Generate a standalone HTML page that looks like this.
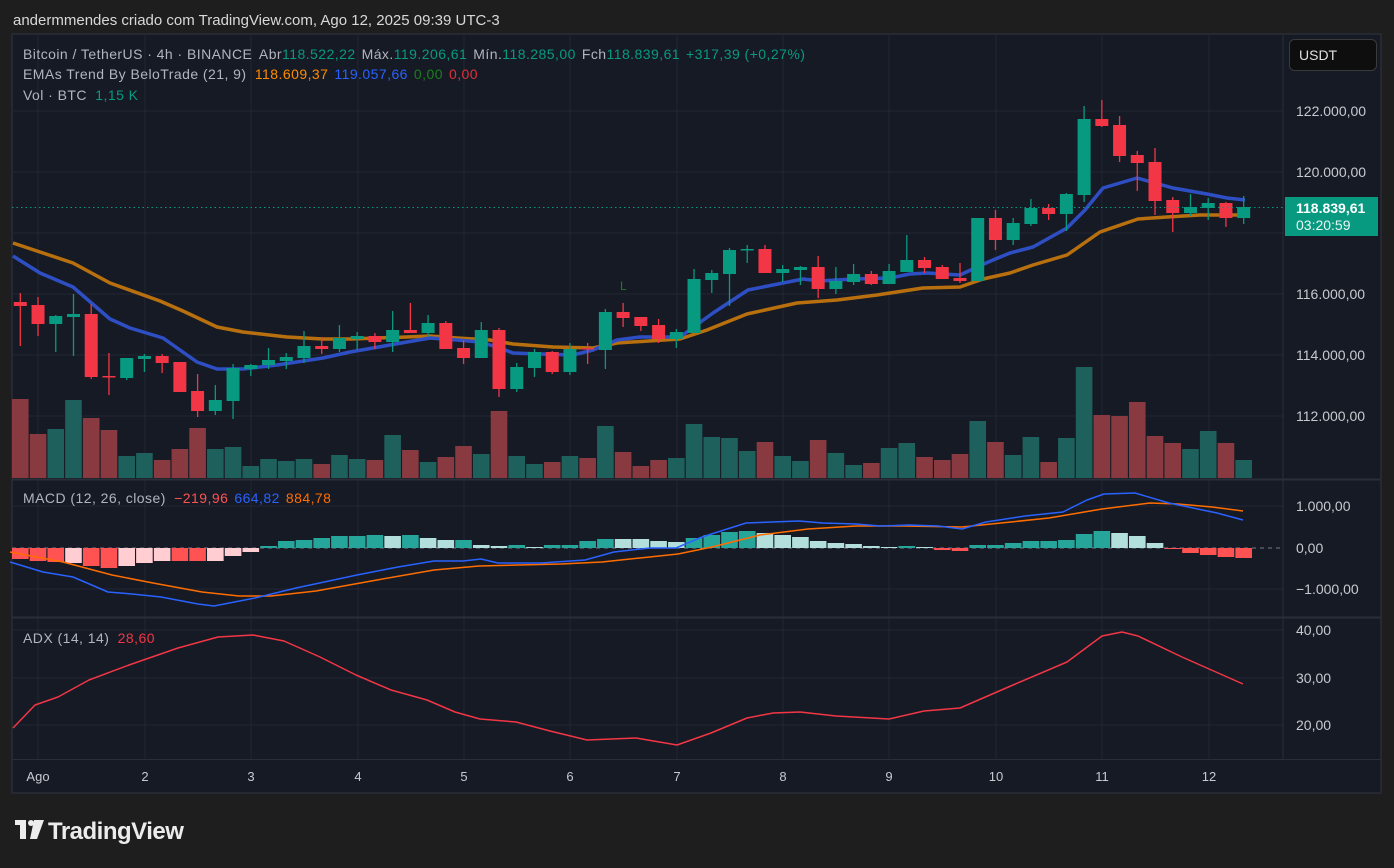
<!DOCTYPE html>
<html><head><meta charset="utf-8"><style>
html,body{margin:0;padding:0;background:#1e1e1e;width:1394px;height:868px;overflow:hidden;font-family:"Liberation Sans",sans-serif}
svg{position:absolute;left:0;top:0}
</style></head><body>
<svg id="s" width="1394" height="868" xmlns="http://www.w3.org/2000/svg" font-family="Liberation Sans, sans-serif">
<rect x="0" y="0" width="1394" height="868" fill="#1e1e1e"/>
<rect x="12" y="34" width="1369" height="759" fill="#161a25" stroke="#2a2d36" stroke-width="1.5"/>
<text x="13" y="25" fill="#d8d8d8" font-size="15">andermmendes criado com TradingView.com, Ago 12, 2025 09:39 UTC-3</text>
<g id="grid" stroke="#232733" stroke-width="1"></g>
<g id="g"></g>
<line x1="12" y1="479.5" x2="1381" y2="479.5" stroke="#2a2e39" stroke-width="2"/>
<line x1="12" y1="617.5" x2="1381" y2="617.5" stroke="#2a2e39" stroke-width="2"/>
<line x1="12" y1="759.5" x2="1381" y2="759.5" stroke="#2a2e39" stroke-width="1"/>
<g font-size="14" fill="#b2b5be" letter-spacing="0.45">
<text x="23" y="59">Bitcoin / TetherUS · 4h · BINANCE <tspan dx="3">Abr</tspan><tspan fill="#089981">118.522,22</tspan><tspan dx="6">Máx.</tspan><tspan fill="#089981">119.206,61</tspan><tspan dx="6">Mín.</tspan><tspan fill="#089981">118.285,00</tspan><tspan dx="6">Fch</tspan><tspan fill="#089981">118.839,61</tspan><tspan dx="6" fill="#089981">+317,39 (+0,27%)</tspan></text>
<text x="23" y="79">EMAs Trend By BeloTrade (21, 9) <tspan dx="4" fill="#ff8c00">118.609,37</tspan><tspan dx="6" fill="#2962ff">119.057,66</tspan><tspan dx="6" fill="#1b7f1b">0,00</tspan><tspan dx="6" fill="#e0303a">0,00</tspan></text>
<text x="23" y="100">Vol · BTC <tspan dx="4" fill="#089981">1,15 K</tspan></text>
<text x="23" y="503">MACD (12, 26, close) <tspan dx="4" fill="#ff5252">−219,96</tspan><tspan dx="6" fill="#2962ff">664,82</tspan><tspan dx="6" fill="#ff6d00">884,78</tspan></text>
<text x="23" y="643">ADX (14, 14) <tspan dx="4" fill="#f23645">28,60</tspan></text>
</g>
<g font-size="14" fill="#c8cad0">
<text x="1296" y="116">122.000,00</text>
<text x="1296" y="177">120.000,00</text>
<text x="1296" y="299">116.000,00</text>
<text x="1296" y="360">114.000,00</text>
<text x="1296" y="421">112.000,00</text>
<text x="1296" y="511">1.000,00</text>
<text x="1296" y="553">0,00</text>
<text x="1296" y="594">−1.000,00</text>
<text x="1296" y="635">40,00</text>
<text x="1296" y="683">30,00</text>
<text x="1296" y="730">20,00</text>
</g>
<g font-size="13" fill="#c8cad0" text-anchor="middle" id="dates"></g>
<rect x="1289.5" y="39.5" width="87" height="31" rx="5" fill="#0e0e0e" stroke="#3a3a3a"/>
<text x="1299" y="60" font-size="14" fill="#e0e0e0">USDT</text>
<rect x="1285" y="197" width="93" height="39" fill="#089981"/>
<text x="1296" y="213" font-size="14" font-weight="bold" fill="#fff">118.839,61</text>
<text x="1296" y="230" font-size="14" fill="#e8f6f3">03:20:59</text>
<text x="620" y="290" font-size="12" fill="#1b7f1b">L</text>
<g transform="translate(15,818)" fill="#ececec">
<rect x="0" y="2" width="11" height="5"/><rect x="5" y="2" width="6" height="19"/>
<circle cx="16" cy="5" r="3"/><polygon points="19,2 29,2 22,21 15,21"/>
<text x="33" y="21" font-size="24" font-weight="bold" letter-spacing="-0.5">TradingView</text>
</g>
</svg>
<script>
const NS="http://www.w3.org/2000/svg";
function el(p,t,a){const e=document.createElementNS(NS,t);for(const k in a)e.setAttribute(k,a[k]);p.appendChild(e);return e;}
const g=document.getElementById('g'),gr=document.getElementById('grid'),dg=document.getElementById('dates');
const days=[["Ago",38],["2",145],["3",251],["4",358],["5",464],["6",570],["7",677],["8",783],["9",889],["10",996],["11",1102],["12",1209]];
days.forEach(d=>{el(gr,'line',{x1:d[1],y1:35,x2:d[1],y2:759});const t=el(dg,'text',{x:d[1],y:781});t.textContent=d[0];});
[111,172,233,294,355,416,506,589,630,678,725].forEach(y=>el(gr,'line',{x1:12,y1:y,x2:1283,y2:y}));
el(gr,'line',{x1:1283,y1:35,x2:1283,y2:759,stroke:'#2a2e39'});
const C=[[302,306,293,346,'r'],[305,324,297,336,'r'],[316,324,315,352,'g'],[314,317,294,356,'g'],[314,377,304,379,'r'],[376,377,353,395,'r'],[358,378,358,380,'g'],[356,359,354,372,'g'],[356,363,354,373,'r'],[362,392,362,392,'r'],[391,411,374,417,'r'],[400,411,385,415,'g'],[368,401,364,419,'g'],[365,369,364,376,'g'],[360,365,348,369,'g'],[357,361,353,369,'g'],[346,358,331,363,'g'],[346,349,337,354,'r'],[338,349,325,352,'g'],[336,339,332,350,'g'],[336,342,333,349,'r'],[330,342,311,352,'g'],[330,333,303,333,'r'],[323,333,315,337,'g'],[323,349,321,349,'r'],[348,358,340,364,'r'],[330,358,322,358,'g'],[330,389,328,397,'r'],[367,389,363,392,'g'],[352,368,349,377,'g'],[352,372,351,374,'r'],[349,372,343,375,'g'],[348,349,343,364,'r'],[312,350,309,369,'g'],[312,318,303,327,'r'],[317,326,317,331,'r'],[325,339,319,343,'r'],[332,339,329,348,'g'],[279,333,269,333,'g'],[273,280,270,293,'g'],[250,274,248,306,'g'],[249,250,245,263,'g'],[249,273,245,273,'r'],[269,273,265,282,'g'],[267,270,266,285,'g'],[267,289,256,298,'r'],[281,289,267,294,'g'],[274,282,264,285,'g'],[274,284,271,285,'r'],[271,284,264,284,'g'],[260,272,235,272,'g'],[260,268,257,273,'r'],[267,279,265,279,'r'],[278,281,263,283,'r'],[218,281,218,281,'g'],[218,240,210,250,'r'],[223,240,218,245,'g'],[208,224,199,226,'g'],[208,214,204,220,'r'],[194,214,193,231,'g'],[119,195,106,202,'g'],[119,126,100,127,'r'],[125,156,116,162,'r'],[155,163,151,191,'r'],[162,201,148,215,'r'],[200,213,197,232,'r'],[207,213,194,216,'g'],[203,208,198,220,'g'],[203,218,202,227,'r'],[207,218,196,224,'g']];
const V=[399,434,429,400,418,430,456,453,460,449,428,449,447,466,459,461,459,464,455,459,460,435,450,462,457,446,454,411,456,464,462,456,458,426,452,466,460,458,424,437,438,451,442,456,461,440,453,465,463,448,443,457,460,454,421,442,455,437,462,438,367,415,416,402,436,443,449,431,443,460];
const X=k=>20.3+17.73*k;
C.forEach((c,k)=>{const x=X(k);el(g,'rect',{x:x-8.3,y:V[k],width:16.6,height:478-V[k],fill:c[4]=='g'?'#1e605c':'#883a40'});});
const pl=(pts,col,w)=>el(g,'polyline',{points:pts.map(p=>p.join(',')).join(' '),fill:'none',stroke:col,'stroke-width':w,'stroke-linejoin':'round'});
pl([[13,243],[40,252],[73,263],[110,283],[160,301],[183,311],[217,327],[243,332],[287,337],[323,339],[350,339],[407,337],[430,336],[457,338],[490,340],[513,344],[553,347],[593,348],[617,343],[680,339],[707,330],[747,314],[797,303],[837,300],[877,295],[923,288],[960,287],[983,279],[1010,273],[1033,265],[1067,255],[1100,232],[1138,219],[1167,217],[1200,215],[1245,215]],'#b8700f',3.5);
pl([[13,256],[40,273],[73,287],[110,319],[130,328],[163,338],[197,362],[217,369],[243,369],[277,365],[323,358],[350,352],[373,348],[407,342],[430,338],[457,340],[480,342],[500,348],[513,353],[540,354],[573,355],[593,350],[617,340],[640,337],[680,337],[713,313],[748,290],[783,283],[803,279],[820,281],[853,279],[890,278],[910,274],[927,273],[960,275],[977,267],[993,260],[1010,253],[1033,247],[1067,228],[1085,210],[1103,188],[1137,178],[1173,188],[1207,194],[1227,198],[1245,200]],'#2e4fc4',3.5);
C.forEach((c,k)=>{const x=X(k),col=c[4]=='g'?'#089981':'#f23645';el(g,'line',{x1:x,y1:c[2],x2:x,y2:c[3],stroke:col,'stroke-width':1.3});el(g,'rect',{x:x-6.5,y:c[0],width:13,height:Math.max(1.5,c[1]-c[0]),fill:col});});
el(g,'line',{x1:12,y1:207.5,x2:1283,y2:207.5,stroke:'#089981','stroke-dasharray':'1.5,3'});
const H=[[559,'r'],[561,'r'],[562,'r'],[563,'p'],[566,'r'],[568,'r'],[566,'p'],[563,'p'],[561,'p'],[561,'r'],[561,'r'],[561,'p'],[556,'p'],[552,'p'],[546,'t'],[541,'t'],[540,'t'],[538,'t'],[536,'t'],[536,'t'],[535,'t'],[536,'l'],[535,'t'],[538,'l'],[540,'l'],[540,'t'],[545,'l'],[546,'l'],[545,'t'],[547,'l'],[545,'t'],[545,'t'],[541,'t'],[539,'t'],[539,'l'],[539,'l'],[541,'l'],[542,'l'],[538,'t'],[535,'t'],[532,'t'],[531,'t'],[533,'l'],[535,'l'],[537,'l'],[541,'l'],[543,'l'],[544,'l'],[546,'l'],[547,'l'],[546,'t'],[547,'l'],[550,'r'],[551,'r'],[545,'t'],[545,'t'],[543,'t'],[541,'t'],[541,'t'],[540,'t'],[534,'t'],[531,'t'],[533,'l'],[536,'l'],[543,'l'],[549,'r'],[553,'r'],[555,'r'],[557,'r'],[558,'r']];
const HC={r:'#ff5252',p:'#ffcdd2',t:'#26a69a',l:'#b2dfdb'};
el(g,'line',{x1:12,y1:548,x2:1283,y2:548,stroke:'#787b86','stroke-dasharray':'4,4','stroke-width':1});
H.forEach((h,k)=>{const x=X(k);const y0=Math.min(h[0],548),y1=Math.max(h[0],548);el(g,'rect',{x:x-8.3,y:y0,width:16.6,height:Math.max(1,y1-y0),fill:HC[h[1]]});});
pl([[10,552],[63,562],[112,575],[153,583],[202,592],[239,596],[271,596],[316,591],[377,580],[434,570],[479,566],[561,564],[602,562],[640,558],[678,554],[712,547],[760,535],[808,529],[856,526],[904,526],[962,527],[1001,523],[1049,518],[1102,509],[1150,503],[1178,504],[1212,507],[1243,511]],'#ff6d00',1.5);
pl([[10,562],[43,572],[73,577],[108,592],[132,594],[161,597],[198,604],[214,606],[255,598],[296,588],[357,575],[398,567],[434,561],[463,561],[481,559],[498,563],[541,563],[585,560],[614,552],[650,548],[676,548],[702,537],[746,523],[799,521],[823,523],[856,524],[880,526],[909,525],[938,526],[962,529],[986,522],[1025,516],[1063,512],[1087,500],[1104,494],[1135,493],[1169,503],[1193,508],[1217,513],[1243,520]],'#2962ff',1.5);
pl([[13,728],[35,705],[58,697],[89,680],[129,665],[178,648],[218,637],[253,635],[284,641],[320,657],[356,675],[391,690],[427,700],[455,712],[480,719],[516,722],[550,731],[587,740],[636,738],[677,745],[711,733],[747,718],[773,713],[800,712],[836,716],[889,719],[924,711],[960,708],[1013,685],[1067,662],[1102,636],[1122,632],[1138,636],[1182,657],[1243,684]],'#f23645',1.5);
</script>
</body></html>
